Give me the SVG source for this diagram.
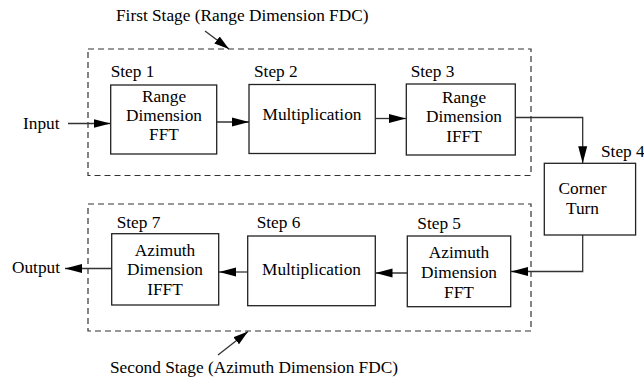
<svg xmlns="http://www.w3.org/2000/svg" width="644" height="381" viewBox="0 0 644 381">
<style>
text{font-family:"Liberation Serif","Times New Roman",serif;font-size:17.3px;fill:#000}
.c{text-anchor:middle}
.box{fill:#fff;stroke:#222;stroke-width:1.3}
.stage{fill:none;stroke:#333;stroke-width:1.2;stroke-dasharray:6 4}
.ln{fill:none;stroke:#333;stroke-width:1.3}
</style>
<defs>
<marker id="ah" markerUnits="userSpaceOnUse" markerWidth="18" markerHeight="10" refX="17" refY="5" orient="auto">
<path d="M0,0.5 L17,5 L0,9.5 Z" fill="#000"/>
</marker>
<marker id="ahs" markerUnits="userSpaceOnUse" markerWidth="16" markerHeight="10" refX="15" refY="5" orient="auto">
<path d="M0,0.5 L15,5 L0,9.5 Z" fill="#000"/>
</marker>
</defs>
<g id="stage1">
<rect class="stage" x="88" y="49" width="443" height="126.5"/>
<text x="116" y="21">First Stage (Range Dimension FDC)</text>
</g>
<g id="stage2">
<rect class="stage" x="88" y="204" width="443" height="127"/>
<text x="110" y="373">Second Stage (Azimuth Dimension FDC)</text>
</g>
<g id="connectors">
<line class="ln" x1="205" y1="31" x2="229" y2="49" marker-end="url(#ahs)"/>
<line class="ln" x1="218" y1="355" x2="248" y2="331.5" marker-end="url(#ahs)"/>
<line class="ln" x1="68" y1="123.5" x2="110.5" y2="123.5" marker-end="url(#ah)"/>
<line class="ln" x1="216.5" y1="122" x2="249" y2="122" marker-end="url(#ah)"/>
<line class="ln" x1="375.5" y1="118.5" x2="406" y2="118.5" marker-end="url(#ah)"/>
<polyline class="ln" points="515.5,117.5 582.7,117.5 582.7,163.3" marker-end="url(#ah)"/>
<polyline class="ln" points="582.7,235 582.7,271.5 511,271.5" marker-end="url(#ah)"/>
<line class="ln" x1="407.5" y1="273" x2="375.5" y2="273" marker-end="url(#ah)"/>
<line class="ln" x1="247.7" y1="272" x2="219" y2="272" marker-end="url(#ah)"/>
<line class="ln" x1="111.7" y1="268.5" x2="65" y2="268.5" marker-end="url(#ah)"/>
</g>
<g id="input"><text x="23" y="129">Input</text></g>
<g id="output"><text x="12" y="273">Output</text></g>
<g id="step1">
<text x="110.7" y="77">Step 1</text>
<rect class="box" x="110.7" y="85" width="106" height="69"/>
<text class="c" x="164" y="102">Range</text>
<text class="c" x="164" y="121">Dimension</text>
<text class="c" x="164" y="140">FFT</text>
</g>
<g id="step2">
<text x="254" y="77">Step 2</text>
<rect class="box" x="249" y="84.5" width="126.3" height="69"/>
<text class="c" x="312" y="120">Multiplication</text>
</g>
<g id="step3">
<text x="410.7" y="77">Step 3</text>
<rect class="box" x="406.3" y="84" width="109" height="71"/>
<text class="c" x="464" y="103">Range</text>
<text class="c" x="464" y="122">Dimension</text>
<text class="c" x="464" y="141.5">IFFT</text>
</g>
<g id="step4">
<text x="601" y="157">Step 4</text>
<rect class="box" x="544.3" y="163.3" width="91.3" height="71.7"/>
<text class="c" x="582.5" y="193.5">Corner</text>
<text class="c" x="582.5" y="213.5">Turn</text>
</g>
<g id="step5">
<text x="417.3" y="229">Step 5</text>
<rect class="box" x="407.3" y="236" width="103.4" height="70.7"/>
<text class="c" x="459" y="258">Azimuth</text>
<text class="c" x="459" y="278">Dimension</text>
<text class="c" x="459" y="298">FFT</text>
</g>
<g id="step6">
<text x="256.7" y="228">Step 6</text>
<rect class="box" x="247.7" y="236" width="127.6" height="69.7"/>
<text class="c" x="311.5" y="275">Multiplication</text>
</g>
<g id="step7">
<text x="116.7" y="228">Step 7</text>
<rect class="box" x="111.7" y="233.7" width="107" height="71.3"/>
<text class="c" x="165" y="255.5">Azimuth</text>
<text class="c" x="165" y="275">Dimension</text>
<text class="c" x="165" y="294.5">IFFT</text>
</g>
</svg>
